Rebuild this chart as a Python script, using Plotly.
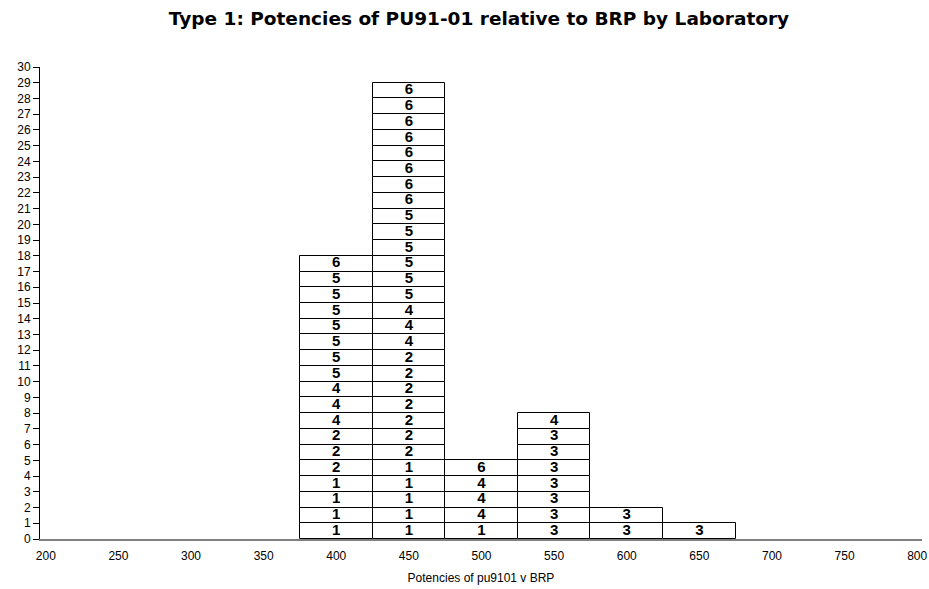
import plotly.graph_objects as go

# Potency bins (centres) and laboratory labels stacked in each bin, bottom to top
bin_centres = [400, 450, 500, 550, 600, 650]
labs_400 = [1, 1, 1, 1, 2, 2, 2, 4, 4, 4, 5, 5, 5, 5, 5, 5, 5, 6]
labs_450 = [1, 1, 1, 1, 1, 2, 2, 2, 2, 2, 2, 2, 4, 4, 4, 5, 5, 5, 5, 5, 5,
            6, 6, 6, 6, 6, 6, 6, 6]
labs_500 = [1, 4, 4, 4, 6]
labs_550 = [3, 3, 3, 3, 3, 3, 3, 4]
labs_600 = [3, 3]
labs_650 = [3]
labs_by_bin = [labs_400, labs_450, labs_500, labs_550, labs_600, labs_650]

bin_width = 50
x_ticks = list(range(200, 801, 50))
y_ticks = list(range(0, 31))

xs, bases, texts = [], [], []
for c, labs in zip(bin_centres, labs_by_bin):
    for i, lab in enumerate(labs):
        xs.append(c)
        bases.append(i)
        texts.append(str(lab))

FONT = "Liberation Sans, Arial, Helvetica, sans-serif"

fig = go.Figure()
fig.add_trace(go.Bar(
    x=xs, y=[1] * len(xs), base=bases, width=bin_width,
    marker=dict(color="white", line=dict(color="black", width=1)),
    hoverinfo="skip", showlegend=False,
))
fig.add_trace(go.Scatter(
    x=xs, y=[b + 0.5 for b in bases], mode="text", text=texts,
    textposition="middle center",
    textfont=dict(family=FONT, size=15, color="black", weight="bold"),
    hoverinfo="skip", showlegend=False,
))

fig.update_layout(
    width=929, height=589,
    margin=dict(l=40, r=7, t=67, b=50, autoexpand=False),
    paper_bgcolor="white", plot_bgcolor="white",
    barmode="overlay", bargap=0,
    title=dict(text="<b>Type 1: Potencies of PU91-01 relative to BRP by Laboratory</b>",
               x=0.5156, xanchor="center", y=0.969, yanchor="middle",
               font=dict(family="DejaVu Sans, sans-serif", size=18.5, color="black")),
    font=dict(family=FONT, size=12, color="black"),
)
fig.update_xaxes(
    range=[196, 803.3], tickvals=x_ticks, ticktext=[str(v) for v in x_ticks],
    showgrid=False, zeroline=False, showline=True, linecolor="#808080", linewidth=2,
    ticks="", tickfont=dict(size=12, color="black"), ticklabelstandoff=5,
    ticklabeloverflow="allow", automargin=False,
    title=dict(text="Potencies of pu9101 v BRP", font=dict(size=12, color="black"), standoff=11),
)
fig.update_yaxes(
    range=[0, 30], tickvals=y_ticks, ticktext=[str(v) for v in y_ticks],
    showgrid=False, zeroline=False, showline=True, linecolor="black", linewidth=1,
    ticks="outside", ticklen=6, tickcolor="black", tickfont=dict(size=12, color="black"),
    automargin=False,
)

fig.write_html("out.html")
